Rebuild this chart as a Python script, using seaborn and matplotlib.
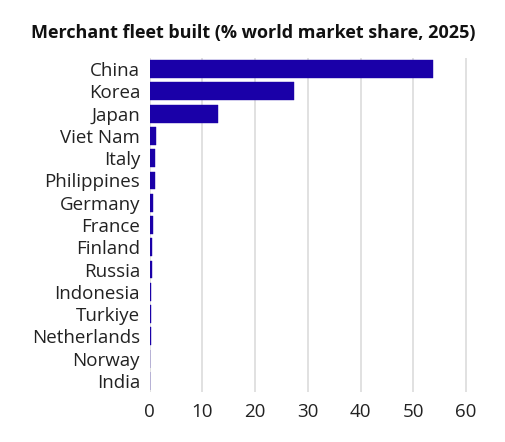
import pandas as pd
import seaborn as sns
import matplotlib.pyplot as plt

# Shares (% of world merchant fleet built, 2025)
countries = ["China", "Korea", "Japan", "Viet Nam", "Italy", "Philippines", "Germany",
             "France", "Finland", "Russia", "Indonesia", "Turkiye", "Netherlands",
             "Norway", "India"]
share = [53.8, 27.3, 13.0, 1.2, 0.9, 0.9, 0.6, 0.55, 0.45, 0.35, 0.3, 0.25, 0.18, 0.12, 0.08]
xticks = [0, 10, 20, 30, 40, 50, 60]

bar_color = "#1a00a8"


def main():
    df = pd.DataFrame({"country": countries, "share": share})

    sns.set_style("white")
    plt.rcParams["font.family"] = ["Open Sans", "DejaVu Sans"]

    fig = plt.figure(figsize=(5.06, 4.42), dpi=100)
    ax = fig.add_axes([0.296, 0.113, 0.646, 0.756])

    sns.barplot(data=df, x="share", y="country", orient="h", color=bar_color,
                width=0.8, saturation=1, ax=ax, zorder=3,
                edgecolor=bar_color, linewidth=0.3)

    ax.set_xlim(0, 62)
    ax.set_ylim(14.5, -0.5)
    ax.set_xticks(xticks)
    ax.set_xlabel("")
    ax.set_ylabel("")
    ax.grid(axis="x", color="#d9d9d9", linewidth=1.1, zorder=0)
    ax.grid(axis="y", visible=False)
    for s in ax.spines.values():
        s.set_visible(False)
    ax.tick_params(axis="both", length=0, labelsize=13.5, colors="#222222")
    ax.tick_params(axis="x", pad=8)
    ax.tick_params(axis="y", pad=7)

    fig.text(0.5, 0.926, "Merchant fleet built (% world market share, 2025)",
             ha="center", va="center", fontsize=13, fontweight="bold", color="#111111")

    fig.savefig("out.png", dpi=100)


main()
